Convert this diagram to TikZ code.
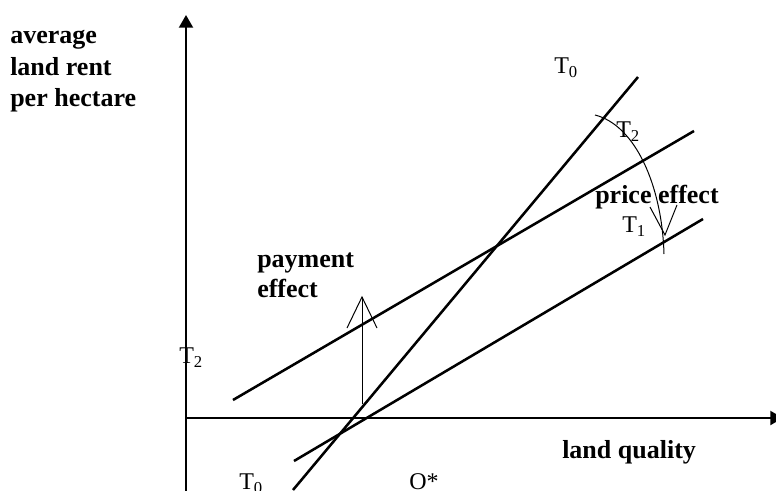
\documentclass[tikz,border=0pt]{standalone}
\usepackage{fontspec}
\setmainfont{Liberation Serif}
\usetikzlibrary{arrows.meta,calc}
\newcommand\Tlab[1]{T\raisebox{-3pt}{\fontsize{12.5}{12.5}\selectfont #1}}
\begin{document}
\begin{tikzpicture}[x=0.75pt,y=-0.75pt,
  lbl/.style={font=\fontsize{18}{20}\selectfont, inner sep=0pt, anchor=base west},
  blbl/.style={font=\fontsize{19.5}{22}\bfseries\selectfont, inner sep=0pt, anchor=base west},
  axis/.style={line width=1.5pt, -{Triangle[length=9.5pt,width=10.5pt]}},
  curveline/.style={line width=1.9pt},
  thinline/.style={line width=0.75pt}]
\useasboundingbox (0,0) rectangle (776,490);
\clip (0,0) rectangle (776,490);
% axes
\coordinate (ybot) at (186,495);
\coordinate (ytop) at (186,15);
\coordinate (xleft) at (186,418);
\coordinate (xright) at (783,418);
\draw[axis] (ybot) -- (ytop);
\draw[axis] (xleft) -- (xright);
% lines
\coordinate (t0a) at (293,490);
\coordinate (t0b) at (638,77);
\coordinate (t2a) at (233,400);
\coordinate (t2b) at (694,131);
\coordinate (t1a) at (294,461);
\coordinate (t1b) at (703,219);
\draw[curveline] (t0a) -- (t0b);
\draw[curveline] (t2a) -- (t2b);
\draw[curveline] (t1a) -- (t1b);
% payment effect arrow
\coordinate (pa) at (362,404);
\coordinate (ptip) at (362,297);
\draw[thinline] (pa) -- (ptip);
\draw[thinline] ($(ptip)+(-15,31)$) -- (ptip) -- ($(ptip)+(15,31)$);
% price effect arc
\coordinate (qa) at (595,115);
\coordinate (qb) at (664,254);
\coordinate (qtip) at (665,235);
\draw[thinline] (qa) .. controls (635,125) and (662,185) .. (qb);
\draw[thinline] ($(qtip)+(-15,-28)$) -- (qtip) -- ($(qtip)+(12,-30)$);
% labels
\node[blbl] (yl1) at (10,43) {average};
\node[blbl] (yl2) at (10,75) {land rent};
\node[blbl] (yl3) at (10,106) {per hectare};
\node[blbl] (xl) at (562,458) {land quality};
\node[blbl] (pay1) at (257,267) {payment};
\node[blbl] (pay2) at (257,297) {effect};
\node[blbl] (pe) at (595,203) {price effect};
\node[lbl] (T0top) at (554,73) {\Tlab{0}};
\node[lbl] (T2up) at (616,137) {\Tlab{2}};
\node[lbl] (T1) at (622,232) {\Tlab{1}};
\node[lbl] (T2left) at (179,363) {\Tlab{2}};
\node[lbl] (T0bot) at (239,489) {\Tlab{0}};
\node[lbl] (O) at (409,489) {O*};
\end{tikzpicture}
\end{document}
